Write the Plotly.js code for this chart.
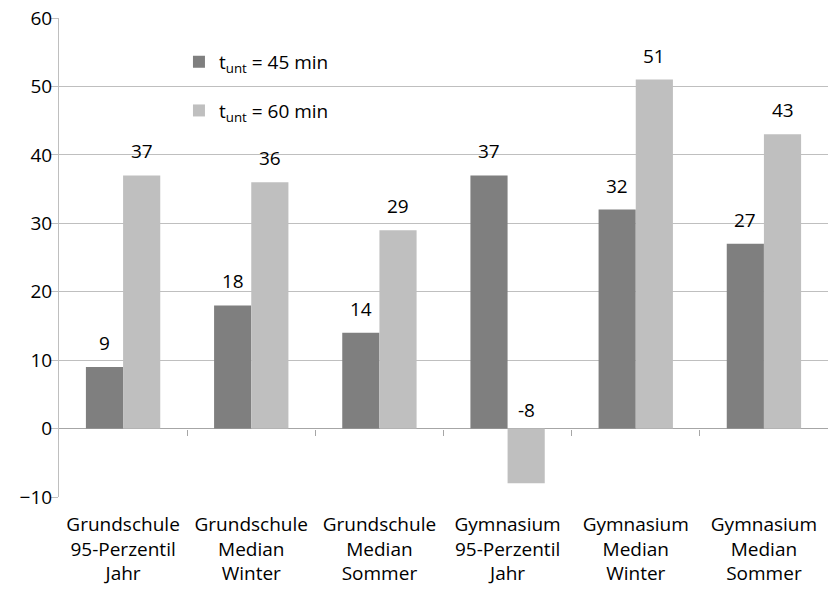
<!DOCTYPE html>
<html><head><meta charset="utf-8">
<script src="https://cdn.plot.ly/plotly-3.0.1.min.js"></script>
<style>html,body{margin:0;padding:0;background:#fff}#c{width:834px;height:590px}</style>
</head><body><div id="c"></div>
<script>
const categories = ["Grundschule<br>95-Perzentil<br>Jahr","Grundschule<br>Median<br>Winter","Grundschule<br>Median<br>Sommer","Gymnasium<br>95-Perzentil<br>Jahr","Gymnasium<br>Median<br>Winter","Gymnasium<br>Median<br>Sommer"];
const seriesNames = ["t<sub>unt</sub> = 45 min","t<sub>unt</sub> = 60 min"];
const values45 = [9,18,14,37,32,27];
const values60 = [37,36,29,-8,51,43];
const yTicks = [-10,0,10,20,30,40,50,60];

const FONT = "Open Sans, Noto Sans, sans-serif";
const FS = 19;
const idx = categories.map((_,i)=>i);
const bounds = idx.slice(1).map(i=>i-0.5);
const traces = [
  {type:"bar", x:idx, y:values45, name:seriesNames[0], marker:{color:"#7f7f7f"}, legendgroup:"a", hoverinfo:"skip"},
  {type:"bar", x:idx, y:values60, name:seriesNames[1], marker:{color:"#bfbfbf"}, legendgroup:"b", hoverinfo:"skip"},
  {type:"scatter", mode:"markers", x:[-0.5,5.5], y:[null,null], xaxis:"x2", yaxis:"y", showlegend:false, hoverinfo:"skip"}
];
const annotations = [];
[values45, values60].forEach((vals, s)=>{
  vals.forEach((v,i)=>{
    annotations.push({x:i + (s===0?-0.145:0.145), y:Math.max(v,0), text:String(v), showarrow:false,
      yanchor:"bottom", yshift:v<0?4:9, font:{family:FONT,size:FS,color:"#000"}});
  });
});
const layout = {
  width:834, height:590,
  margin:{l:59, r:6, t:18, b:93},
  paper_bgcolor:"#fff", plot_bgcolor:"#fff",
  barmode:"group", bargap:0.42, bargroupgap:0,
  font:{family:FONT, size:FS, color:"#000"},
  showlegend:true,
  legend:{x:0.156, y:0.948, xanchor:"left", yanchor:"top", bgcolor:"rgba(0,0,0,0)",
    traceorder:"grouped", tracegroupgap:21, font:{family:FONT,size:FS}, itemwidth:30},
  xaxis:{type:"linear", range:[-0.5,5.5], tickvals:idx, ticktext:categories, ticks:"",
    showgrid:false, zeroline:false, showline:false, tickfont:{family:FONT,size:FS}, ticklabelstandoff:14},
  xaxis2:{type:"linear", overlaying:"x", anchor:"free", position:(0-(-10))/70, range:[-0.5,5.5],
    tickvals:bounds, ticks:"outside", ticklen:6, tickcolor:"#a6a6a6", tickwidth:1,
    showticklabels:false, showgrid:false, zeroline:false, showline:false},
  yaxis:{range:[-10,60], tickvals:yTicks, ticks:"outside", ticklen:7, tickcolor:"#bfbfbf",
    showgrid:true, gridcolor:"#bfbfbf", gridwidth:1, zeroline:true, zerolinecolor:"#a6a6a6", zerolinewidth:1,
    showline:true, linecolor:"#bfbfbf", linewidth:1, tickfont:{family:FONT,size:FS}, ticklabelstandoff:-5},
  annotations:annotations
};
Plotly.newPlot("c", traces, layout, {displayModeBar:false, staticPlot:true});
</script></body></html>
